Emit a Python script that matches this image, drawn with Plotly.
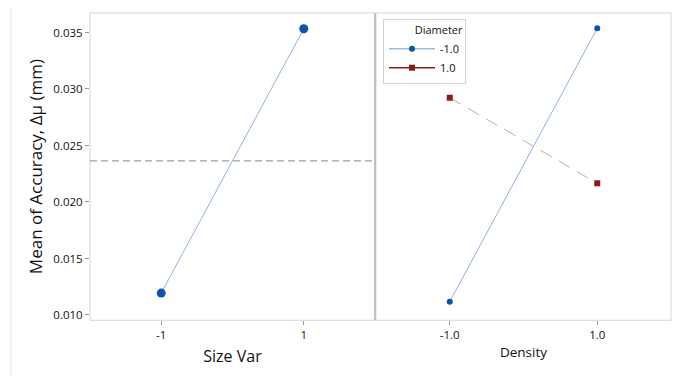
import plotly.graph_objects as go

# ---- data ----
size_var_levels = [-1, 1]
size_var_means = [0.01194, 0.03533]

density_levels = [-1.0, 1.0]
diam_neg_means = [0.01118, 0.03538]   # Diameter -1.0
diam_pos_means = [0.02923, 0.02165]   # Diameter 1.0
legend_names = ["-1.0", "1.0"]

y_ticks = [0.010, 0.015, 0.020, 0.025, 0.030, 0.035]
y_ticklabels = ["0.010", "0.015", "0.020", "0.025", "0.030", "0.035"]

grand_mean = sum(size_var_means) / len(size_var_means)

W, H = 678, 378
BLUE = "#0a55a8"
BLUE_LINE = "#8fb3e0"
RED = "#8b1a1a"
RED_LINE = "#d9a3a3"
FONT = "Open Sans"
TXT = "#111111"

fig = go.Figure()

# Left panel: main effect of Size Var
fig.add_trace(go.Scatter(
    x=size_var_levels, y=size_var_means, mode="lines+markers",
    line=dict(color=BLUE_LINE, width=1),
    marker=dict(color=BLUE, size=9, symbol="circle"),
    showlegend=False, xaxis="x", yaxis="y"))

# Right panel: interaction Density x Diameter
fig.add_trace(go.Scatter(
    x=density_levels, y=diam_neg_means, mode="lines+markers",
    line=dict(color=BLUE_LINE, width=1),
    marker=dict(color=BLUE, size=6, symbol="circle"),
    showlegend=False, xaxis="x2", yaxis="y2"))
fig.add_trace(go.Scatter(
    x=density_levels, y=diam_pos_means, mode="lines+markers",
    line=dict(color=RED_LINE, width=1, dash="13px,8px"),
    marker=dict(color=RED, size=6, symbol="square"),
    showlegend=False, xaxis="x2", yaxis="y2"))

# legend entries
fig.add_trace(go.Scatter(
    x=[None], y=[None], mode="lines+markers", name=legend_names[0],
    line=dict(color="#9dbde6", width=1.5),
    marker=dict(color=BLUE, size=6, symbol="circle"),
    xaxis="x2", yaxis="y2"))
fig.add_trace(go.Scatter(
    x=[None], y=[None], mode="lines+markers", name=legend_names[1],
    line=dict(color=RED, width=1.5),
    marker=dict(color=RED, size=6, symbol="square"),
    xaxis="x2", yaxis="y2"))

# domains
xl = [90 / W, 375 / W]
xr = [376 / W, 671 / W]
yd = [1 - 322 / H, 1 - 13 / H]
yrange = [0.00953, 0.03673]

axis_common = dict(showgrid=False, zeroline=False, showline=False,
                   ticks="outside", ticklen=4, tickcolor="#9a9a9a",
                   tickfont=dict(family=FONT, size=11.5, color=TXT))

fig.update_layout(
    width=W, height=H,
    margin=dict(l=0, r=0, t=0, b=0),
    paper_bgcolor="white", plot_bgcolor="white",
    font=dict(family=FONT, color=TXT),
    xaxis=dict(domain=xl, range=[-2, 2], tickvals=size_var_levels,
               ticktext=["-1", "1"], anchor="y",
               title=dict(text="Size Var", standoff=9,
                          font=dict(family=FONT, size=16, color=TXT)),
               **axis_common),
    yaxis=dict(domain=yd, range=yrange, tickvals=y_ticks,
               ticktext=y_ticklabels, anchor="x",
               title=dict(text="Mean of Accuracy, Δμ (mm)", standoff=6,
                          font=dict(family=FONT, size=17, color=TXT)),
               **axis_common),
    xaxis2=dict(domain=xr, range=[-2, 2], tickvals=density_levels,
                ticktext=["-1.0", "1.0"], anchor="y2",
                title=dict(text="Density", standoff=6,
                           font=dict(family=FONT, size=13.5, color=TXT)),
                **axis_common),
    yaxis2=dict(domain=yd, range=yrange, anchor="x2", showticklabels=False,
                showgrid=False, zeroline=False, showline=False, ticks=""),
    legend=dict(x=383 / W, y=1 - 19 / H, xanchor="left", yanchor="top",
                bgcolor="white", bordercolor="#d4d4d4", borderwidth=1,
                font=dict(family=FONT, size=11, color=TXT),
                title=dict(text="Diameter", side="top right",
                           font=dict(family=FONT, size=11, color=TXT)),
                itemwidth=46, tracegroupgap=0),
)

shapes = [
    # outer faint page border
    dict(type="line", xref="paper", yref="paper", x0=11 / W, x1=11 / W,
         y0=0, y1=1 - 7 / H, line=dict(color="#e6e6e6", width=1)),
    # left panel frame
    dict(type="rect", xref="x domain", yref="y domain", x0=0, x1=1, y0=0, y1=1,
         line=dict(color="#d6d6d6", width=1)),
    # right panel frame
    dict(type="rect", xref="x2 domain", yref="y2 domain", x0=0, x1=1, y0=0, y1=1,
         line=dict(color="#d6d6d6", width=1)),
    # separator
    dict(type="line", xref="x domain", yref="y domain", x0=1, x1=1, y0=0, y1=1,
         line=dict(color="#a8a8a8", width=1.2)),
    # grand mean reference line
    dict(type="line", xref="x domain", yref="y", x0=0, x1=1,
         y0=grand_mean, y1=grand_mean,
         line=dict(color="#a0a0a0", width=1.2, dash="7px,4px")),
]
fig.update_layout(shapes=shapes)

fig.write_html("out.html")
